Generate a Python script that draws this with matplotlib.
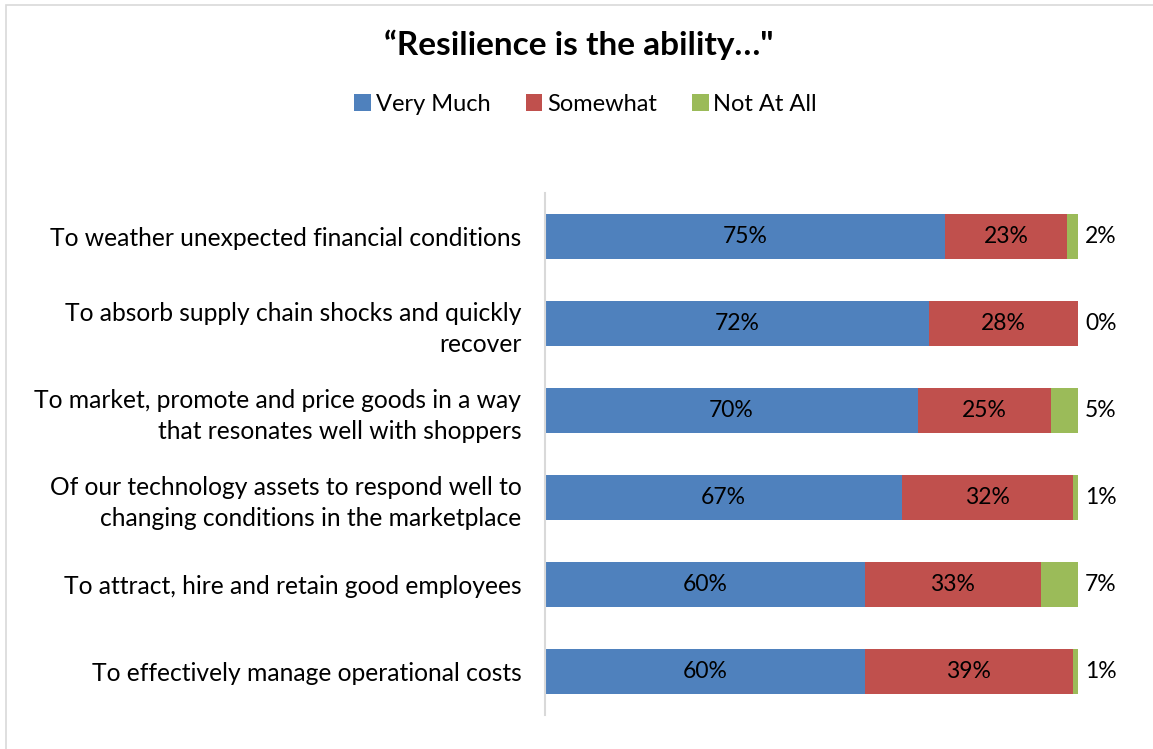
import matplotlib.pyplot as plt
from matplotlib.patches import Rectangle

plt.rcParams['font.family'] = ['Lato', 'DejaVu Sans']

categories = [
    "To weather unexpected financial conditions",
    "To absorb supply chain shocks and quickly\nrecover",
    "To market, promote and price goods in a way\nthat resonates well with shoppers",
    "Of our technology assets to respond well to\nchanging conditions in the marketplace",
    "To attract, hire and retain good employees",
    "To effectively manage operational costs",
]
very_much = [75, 72, 70, 67, 60, 60]
somewhat = [23, 28, 25, 32, 33, 39]
not_at_all = [2, 0, 5, 1, 7, 1]

series_names = ["Very Much", "Somewhat", "Not At All"]
colors = ["#4F81BD", "#C0504D", "#9BBB59"]

fig = plt.figure(figsize=(11.53, 7.49), dpi=100)
ax = fig.add_axes([0.4727, 0.0454, 0.4623, 0.697])

# outer chart frame
fig.patches.append(Rectangle((0.005, -0.01), 0.999, 1.003, transform=fig.transFigure,
                             fill=False, edgecolor="#D9D9D9", linewidth=1.2))

y = list(range(len(categories)))[::-1]
h = 0.52
left = [0] * len(categories)
for vals, name, col in zip([very_much, somewhat, not_at_all], series_names, colors):
    ax.barh(y, vals, left=left, height=h, color=col, label=name, edgecolor="none")
    left = [l + v for l, v in zip(left, vals)]

for yi, v, s, n in zip(y, very_much, somewhat, not_at_all):
    ax.text(v / 2, yi, f"{v}%", ha="center", va="center", fontsize=16.5)
    ax.text(v + s / 2, yi, f"{s}%", ha="center", va="center", fontsize=16.5)
    ax.text(v + s + n + 4.3, yi, f"{n}%", ha="center", va="center", fontsize=16.5, clip_on=False)

ax.set_xlim(0, 100)
ax.set_ylim(-0.5, len(categories) - 0.5)
ax.set_yticks(y)
ax.set_yticklabels(categories, fontsize=17.7, ha="right", multialignment="right", linespacing=1.4)
ax.tick_params(axis="y", length=0, pad=17)
ax.set_xticks([])
for side in ["top", "right", "bottom"]:
    ax.spines[side].set_visible(False)
ax.spines["left"].set_color("#D9D9D9")
ax.spines["left"].set_linewidth(1.5)

fig.text(0.502, 0.94, "\u201cResilience is the ability\u2026\"", ha="center", va="center",
         fontsize=24, fontweight="bold")
fig.legend(loc="center", bbox_to_anchor=(0.508, 0.861), ncol=3, frameon=False,
           fontsize=17, handlelength=0.7, handleheight=0.7, handletextpad=0.2,
           columnspacing=1.5)

fig.savefig("out.png", dpi=100)
